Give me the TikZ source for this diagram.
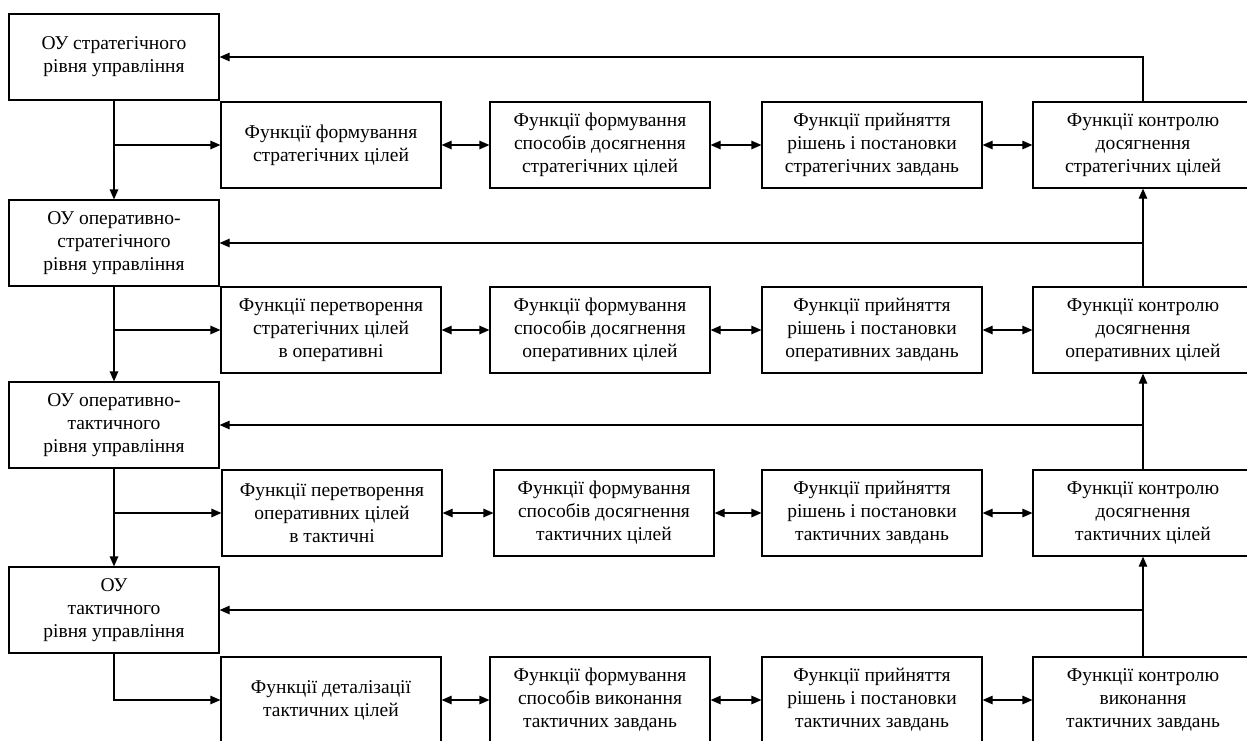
\documentclass[tikz,border=0pt]{standalone}
\usepackage{fontspec}
\setmainfont{Liberation Serif}
\usetikzlibrary{arrows.meta}

\begin{document}
\begin{tikzpicture}[x=1pt,y=-1pt,line width=1.2pt,>={Triangle[length=10pt,width=8.5pt]},
  box/.style={draw,align=center,minimum height=86pt,inner sep=0pt,font=\fontsize{19.5}{23}\selectfont},
  oubox/.style={box,minimum width=210pt},
  fnbox/.style={box,minimum width=220pt}]
\useasboundingbox (0,0) rectangle (1247,740);
\clip (0,0) rectangle (1247,740);

\node[oubox] (ou1) at (114,57)  {ОУ стратегічного\\рівня управління};
\node[oubox] (ou2) at (114,243) {ОУ оперативно-\\стратегічного\\рівня управління};
\node[oubox] (ou3) at (114,425) {ОУ оперативно-\\тактичного\\рівня управління};
\node[oubox] (ou4) at (114,610) {ОУ\\тактичного\\рівня управління};

\node[fnbox] (f11) at (331,145)  {Функції формування\\стратегічних цілей};
\node[fnbox] (f12) at (600,145)  {Функції формування\\способів досягнення\\стратегічних цілей};
\node[fnbox] (f13) at (872,145)  {Функції прийняття\\рішень і постановки\\стратегічних завдань};
\node[fnbox] (f14) at (1143,145) {Функції контролю\\досягнення\\стратегічних цілей};

\node[fnbox] (f21) at (331,330)  {Функції перетворення\\стратегічних цілей\\в оперативні};
\node[fnbox] (f22) at (600,330)  {Функції формування\\способів досягнення\\оперативних цілей};
\node[fnbox] (f23) at (872,330)  {Функції прийняття\\рішень і постановки\\оперативних завдань};
\node[fnbox] (f24) at (1143,330) {Функції контролю\\досягнення\\оперативних цілей};

\node[fnbox] (f31) at (332,513)  {Функції перетворення\\оперативних цілей\\в тактичні};
\node[fnbox] (f32) at (604,513)  {Функції формування\\способів досягнення\\тактичних цілей};
\node[fnbox] (f33) at (872,513)  {Функції прийняття\\рішень і постановки\\тактичних завдань};
\node[fnbox] (f34) at (1143,513) {Функції контролю\\досягнення\\тактичних цілей};

\node[fnbox] (f41) at (331,700)  {Функції деталізації\\тактичних цілей};
\node[fnbox] (f42) at (600,700)  {Функції формування\\способів виконання\\тактичних завдань};
\node[fnbox] (f43) at (872,700)  {Функції прийняття\\рішень і постановки\\тактичних завдань};
\node[fnbox] (f44) at (1143,700) {Функції контролю\\виконання\\тактичних завдань};

\foreach \r in {1,...,4}{
  \draw[<->] (f\r1.east) -- (f\r2.west);
  \draw[<->] (f\r2.east) -- (f\r3.west);
  \draw[<->] (f\r3.east) -- (f\r4.west);
}

\foreach \a/\b in {1/2,2/3,3/4}{
  \draw[->] (ou\a.south) -- (ou\b.north);
  \draw[->] (ou\a.south |- f\a1.west) -- (f\a1.west);
  \draw[->] (f\b4.north) -- (f\a4.south);
  \draw[->] (f\b4.north |- ou\b.east) -- (ou\b.east);
}
\draw[->] (ou4.south) |- (f41.west);
\draw[->] (f14.north) |- (ou1.east);

\end{tikzpicture}
\end{document}
